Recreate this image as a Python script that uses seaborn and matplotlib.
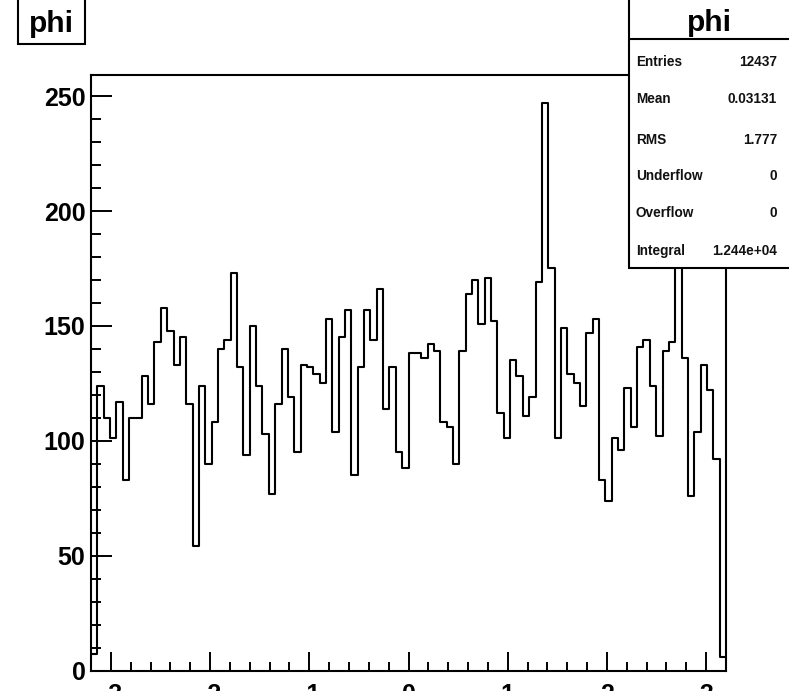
import numpy as np
import pandas as pd
import matplotlib
matplotlib.use("Agg")
import matplotlib.pyplot as plt
from matplotlib.patches import Rectangle
from matplotlib.lines import Line2D
from matplotlib.ticker import MultipleLocator
import seaborn as sns

# Histogram of phi: 100 equal bins over [-3.2, 3.2]
bin_lo, bin_hi, n_bins = -3.2, 3.2, 100
counts = [
    7, 124, 110, 101, 117, 83, 110, 110, 128, 116,
    143, 158, 148, 133, 145, 116, 54, 124, 90, 108,
    140, 144, 173, 132, 94, 150, 124, 103, 77, 116,
    140, 119, 95, 133, 132, 129, 125, 153, 104, 145,
    157, 85, 132, 157, 144, 166, 114, 132, 95, 88,
    138, 138, 136, 142, 139, 108, 106, 90, 139, 164,
    170, 151, 171, 152, 112, 101, 135, 128, 111, 119,
    169, 247, 175, 101, 149, 129, 125, 115, 147, 153,
    83, 74, 101, 96, 123, 106, 141, 144, 124, 102,
    139, 143, 190, 136, 76, 104, 133, 122, 92, 6,
]

hist_name = "phi"
stat_names = ["Entries", "Mean", "RMS", "Underflow", "Overflow", "Integral"]
stat_values = ["12437", "0.03131", "1.777", "0", "0", "1.244e+04"]
x_ticks = [-3, -2, -1, 0, 1, 2, 3]
y_ticks = [0, 50, 100, 150, 200, 250]

sns.set_theme(style="white")
plt.rcParams["font.family"] = ["Liberation Sans", "DejaVu Sans"]
plt.rcParams["axes.unicode_minus"] = False

W, H = 789, 691


def fx(px):
    return px / W


def fy(py):
    return 1 - py / H


edges = np.linspace(bin_lo, bin_hi, n_bins + 1)
centers = (edges[:-1] + edges[1:]) / 2
df = pd.DataFrame({"phi": centers, "count": counts})

fig = plt.figure(figsize=(W / 100, H / 100), dpi=100)
fig.patch.set_facecolor("white")
ax = fig.add_axes([fx(91), fy(670.5), fx(726) - fx(91), fy(74.7) - fy(670.5)])

sns.histplot(data=df, x="phi", weights="count", bins=n_bins,
             binrange=(bin_lo, bin_hi), element="step",
             fill=False, color="black", linewidth=1.5, ax=ax)

ax.set_xlim(bin_lo, bin_hi)
ax.set_ylim(0, 1.05 * max(counts))
ax.set_xlabel("")
ax.set_ylabel("")
ax.set_facecolor("white")

for side in ["left", "right", "top", "bottom"]:
    ax.spines[side].set_visible(True)
    ax.spines[side].set_color("black")
    ax.spines[side].set_linewidth(1.5)

ax.set_xticks(x_ticks)
ax.set_xticklabels([str(t) for t in x_ticks])
ax.set_yticks(y_ticks)
ax.set_yticklabels([str(t) for t in y_ticks])
ax.xaxis.set_minor_locator(MultipleLocator(0.2))
ax.yaxis.set_minor_locator(MultipleLocator(10))

ax.tick_params(axis="x", which="major", direction="in", length=13.5, width=1.4,
               color="black", pad=9, labelsize=18, bottom=True, top=False)
ax.tick_params(axis="x", which="minor", direction="in", length=6.5, width=1.4,
               color="black", bottom=True, top=False)
ax.tick_params(axis="y", which="major", direction="in", length=15, width=1.4,
               color="black", pad=4, labelsize=18, left=True, right=False)
ax.tick_params(axis="y", which="minor", direction="in", length=7, width=1.4,
               color="black", left=True, right=False)
for lab in ax.get_xticklabels() + ax.get_yticklabels():
    lab.set_fontweight("bold")
    lab.set_color("black")

# Title box at the upper left
fig.add_artist(Rectangle((fx(18), fy(44)), fx(85.3) - fx(18), 0.1,
                         transform=fig.transFigure, facecolor="white",
                         edgecolor="black", linewidth=1.5, zorder=10,
                         clip_on=False))
fig.text(fx(51.6), fy(31.7), hist_name, ha="center", va="baseline",
         fontsize=21.5, fontweight="bold", color="black", zorder=11)

# Statistics box at the upper right
box_l, box_b, box_hdr = 629.3, 268.3, 39.3
fig.add_artist(Rectangle((fx(box_l), fy(box_b)), 0.3, 0.6,
                         transform=fig.transFigure, facecolor="white",
                         edgecolor="black", linewidth=1.5, zorder=10,
                         clip_on=False))
fig.add_artist(Line2D([fx(box_l), 1.0], [fy(box_hdr), fy(box_hdr)],
                      transform=fig.transFigure, color="black",
                      linewidth=1.5, zorder=11))
fig.text(fx(709.5), fy(31), hist_name, ha="center", va="baseline",
         fontsize=21.5, fontweight="bold", color="black", zorder=11)

row_y = [61.7, 99.3, 139.5, 175.7, 213.3, 250.7]
for name, val, ry in zip(stat_names, stat_values, row_y):
    fig.text(fx(636), fy(ry), name, ha="left", va="center",
             fontsize=9.8, fontweight="bold", color="#111111", zorder=11)
    fig.text(fx(777), fy(ry), val, ha="right", va="center",
             fontsize=9.8, fontweight="bold", color="#111111", zorder=11)

fig.savefig("out.png", dpi=100, facecolor="white")
